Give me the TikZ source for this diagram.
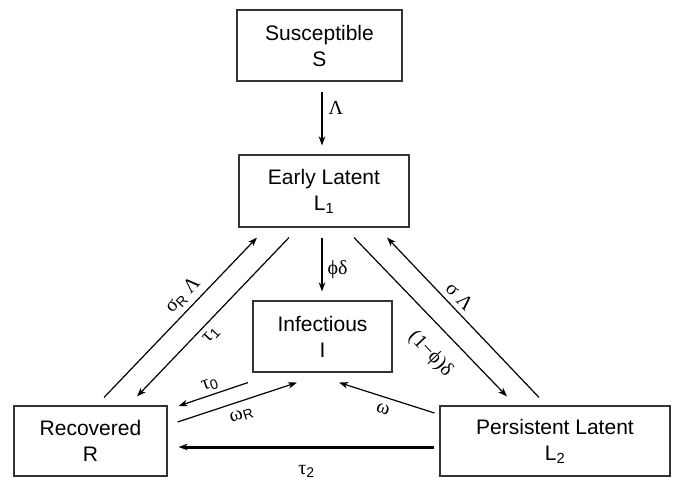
\documentclass[tikz,border=0pt]{standalone}
\usepackage{fontspec}
\setmainfont{Liberation Sans}
\newfontfamily\greekfont{Liberation Serif}
\newcommand{\grk}[1]{{\greekfont #1}}
\usetikzlibrary{arrows.meta}
\tikzstyle{CompartmentNode}=[rectangle, draw=black!80, line width=1.1pt, align=center, inner sep=0pt, font=\fontsize{21}{26}\selectfont]
\tikzstyle{FlowArrow}=[line width=1.2pt, -{Stealth[length=9pt,width=6.5pt,inset=2.5pt]}]
\tikzstyle{RateLabel}=[font=\fontsize{20}{22}\selectfont, inner sep=2pt]

\begin{document}
\begin{tikzpicture}[x=1pt, y=-1pt]
    \useasboundingbox (0,0) rectangle (675,477);

    \node (sus) [CompartmentNode, minimum width=165pt, minimum height=71pt] at (319.5,45.5) {Susceptible\\S};
    \node (early) [CompartmentNode, minimum width=170pt, minimum height=72pt] at (324,191) {Early Latent\\L\textsubscript{1}};
    \node (inf) [CompartmentNode, minimum width=139pt, minimum height=71pt] at (322.5,336.5) {Infectious\\I};
    \node (rec) [CompartmentNode, minimum width=153pt, minimum height=70pt] at (90.5,441) {Recovered\\R};
    \node (pers) [CompartmentNode, minimum width=230pt, minimum height=70pt] at (555,441) {Persistent Latent\\L\textsubscript{2}};

    \draw [FlowArrow] ([xshift=2.5pt,yshift=-10pt]sus.south) -- node[RateLabel, right=4pt, pos=0.3] {\grk{Λ}} ([xshift=-2pt,yshift=9pt]early.north);
    \draw [FlowArrow] ([xshift=-2pt,yshift=-10pt]early.south) -- node[RateLabel, right=3pt, pos=0.6] {\grk{ϕδ}} ([xshift=-0.5pt,yshift=9pt]inf.north);
    \draw [FlowArrow] ([xshift=13.5pt,yshift=8pt]rec.north) -- node[RateLabel, sloped, above=3pt, pos=0.58] {\grk{σ}\textsubscript{R} \grk{Λ}} ([xshift=-67pt,yshift=-10pt]early.south);
    \draw [FlowArrow] ([xshift=-35pt,yshift=-10pt]early.south) -- node[RateLabel, sloped, below=3pt, pos=0.565] {\grk{τ}\textsubscript{1}} ([xshift=46.5pt,yshift=9pt]rec.north);
    \draw [FlowArrow] ([xshift=30pt,yshift=-10pt]early.south) -- node[RateLabel, sloped, below=14pt, pos=0.62] {\grk{(1−ϕ)δ}} ([xshift=-48pt,yshift=9pt]pers.north);
    \draw [FlowArrow] ([xshift=-16pt,yshift=8pt]pers.north) -- node[RateLabel, sloped, above=3pt, pos=0.58] {\grk{σ Λ}} ([xshift=63pt,yshift=-10pt]early.south);
    \draw [FlowArrow] ([xshift=-74.5pt,yshift=-10pt]inf.south) -- node[RateLabel, sloped, above=1pt] {\grk{τ}\textsubscript{0}} ([xshift=11pt,yshift=35pt]rec.east);
    \draw [FlowArrow] ([xshift=10pt,yshift=19pt]rec.east) -- node[RateLabel, sloped, below=5pt] {\grk{ω}\textsubscript{R}} ([xshift=-25.5pt,yshift=-10pt]inf.south);
    \draw [FlowArrow] ([xshift=-5pt,yshift=28pt]pers.west) -- node[RateLabel, sloped, below=5pt] {\grk{ω}} ([xshift=16.5pt,yshift=-10pt]inf.south);
    \draw [FlowArrow, line width=3pt] ([xshift=-5pt,yshift=-6pt]pers.west) -- node[RateLabel, below=15pt] {\grk{τ}\textsubscript{2}} ([xshift=11pt,yshift=-6pt]rec.east);
\end{tikzpicture}
\end{document}
